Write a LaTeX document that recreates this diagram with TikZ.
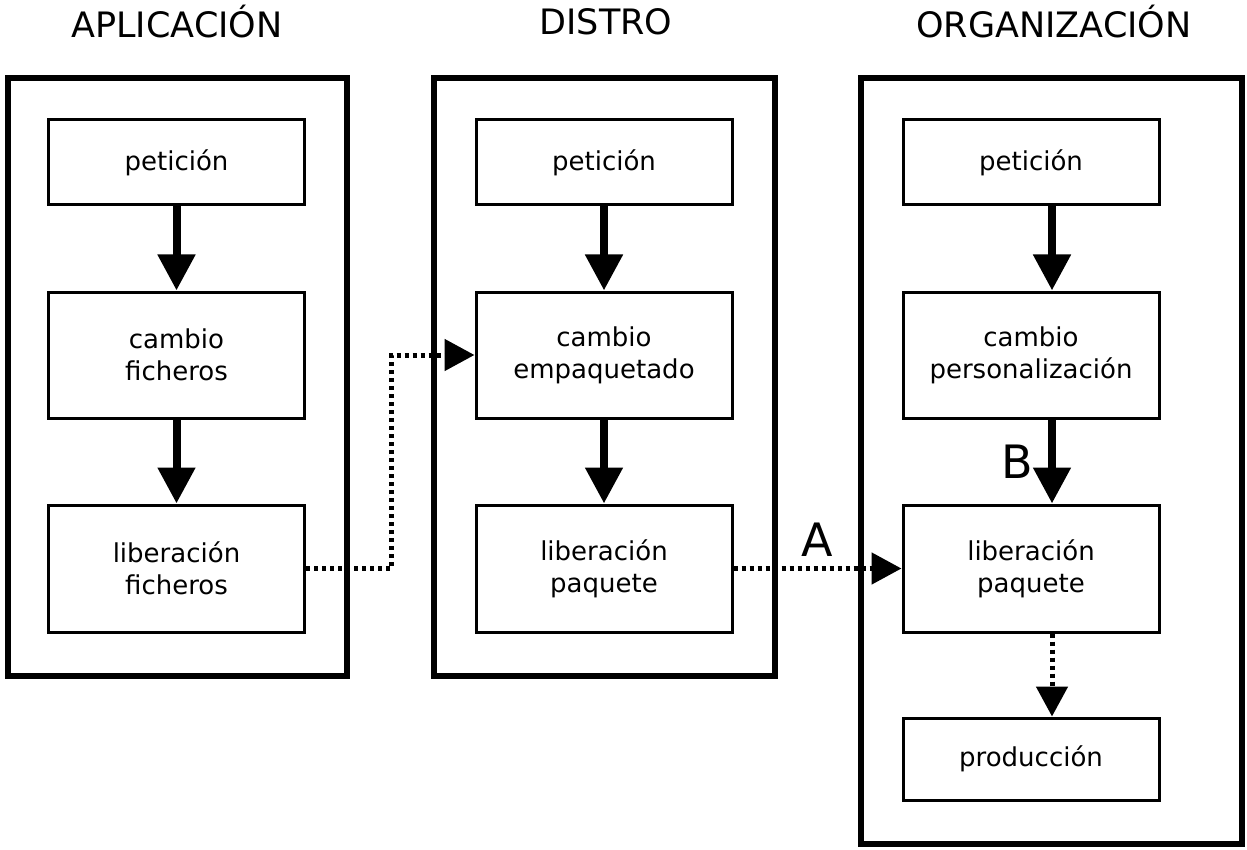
\documentclass[tikz,border=0pt]{standalone}
\usepackage{fontspec}
\setmainfont{DejaVu Sans}
\usetikzlibrary{arrows.meta}

\begin{document}
\begin{tikzpicture}[x=1pt,y=-1pt,
		caja/.style={draw,line width=3pt,minimum width=256pt,align=center,inner sep=0pt,font=\fontsize{26}{32}\selectfont},
		marco/.style={line width=6pt},
		flecha/.style={line width=8pt,-{Triangle[length=36pt,width=36pt]}},
		punteada/.style={line width=5pt,dash pattern=on 4pt off 4pt,-{Triangle[length=30pt,width=31pt]}},
		titulo/.style={font=\fontsize{35}{40}\selectfont},
		letra/.style={font=\fontsize{46}{50}\selectfont}]
			\useasboundingbox (0,0) rectangle (1247,850);
			% marcos
			\draw[marco] (8,78) rectangle (347,676);
			\draw[marco] (434,78) rectangle (775,676);
			\draw[marco] (861,78) rectangle (1242,844);
			\node[titulo] (tit1) at (177,22) {APLICACIÓN};
			\node[titulo] (tit2) at (606,22) {DISTRO};
			\node[titulo] (tit3) at (1054,22) {ORGANIZACIÓN};
			% aplicacion
			\node[caja,minimum height=85pt] (pet1) at (176.5,162.5) {petición};
			\node[caja,minimum height=126pt] (cam1) at (176.5,355) {cambio\\ficheros};
			\node[caja,minimum height=127pt] (lib1) at (176.5,568.5) {liberación\\ficheros};
			\draw[flecha] (pet1)--(cam1);
			\draw[flecha] (cam1)--(lib1);
			% distro
			\node[caja,minimum height=85pt] (pet2) at (604,162.5) {petición};
			\node[caja,minimum height=126pt] (cam2) at (604,355) {cambio\\empaquetado};
			\node[caja,minimum height=127pt] (lib2) at (604,568.5) {liberación\\paquete};
			\draw[flecha] (pet2)--(cam2);
			\draw[flecha] (cam2)--(lib2);
			% organizacion
			\node[caja,minimum height=85pt] (pet3) at (1031,162.5) {petición};
			\node[caja,minimum height=126pt] (cam3) at (1031,355) {cambio\\personalización};
			\node[caja,minimum height=127pt] (lib3) at (1031,568.5) {liberación\\paquete};
			\node[caja,minimum height=82pt] (pro3) at (1031,759) {producción};
			\draw[flecha] ([xshift=21pt]pet3.south)--([xshift=21pt]cam3.north);
			\draw[flecha] ([xshift=21pt]cam3.south)--node[letra,left=12pt]{B}([xshift=21pt]lib3.north);
			\draw[punteada] ([xshift=21pt]lib3.south)--([xshift=21pt]pro3.north);
			% entre columnas
			\draw[punteada] (lib1.east)--++(85,0)|-(cam2.west);
			\draw[punteada] (lib2.east)--node[letra,above=6pt]{A}(lib3.west);
		\end{tikzpicture}
\end{document}
